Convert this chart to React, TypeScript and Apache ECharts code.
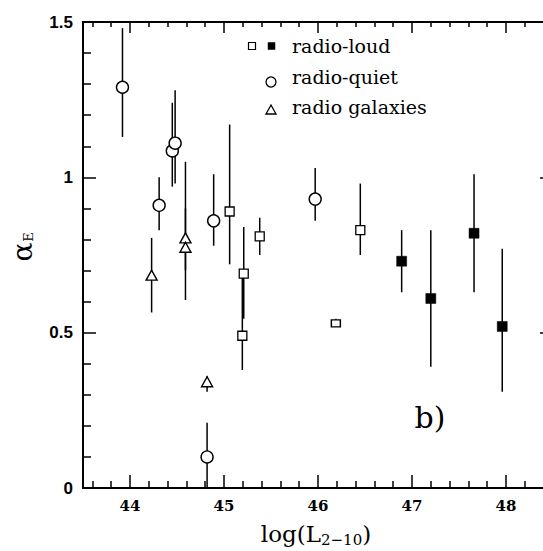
import React, { useEffect, useRef } from 'react';
import * as echarts from 'echarts';

// radio-quiet (open circles)
const quietX = [43.92, 44.45, 44.48, 44.31, 44.89, 45.97, 44.82];
const quietY = [1.29, 1.085, 1.11, 0.91, 0.86, 0.93, 0.10];
const quietLo = [1.13, 0.97, 0.98, 0.83, 0.78, 0.86, 0.0];
const quietHi = [1.48, 1.24, 1.28, 1.0, 1.01, 1.03, 0.21];

// radio galaxies (open triangles)
const galX = [44.23, 44.59, 44.59, 44.82];
const galY = [0.685, 0.805, 0.775, 0.342];
const galLo = [0.565, 0.7, 0.605, 0.31];
const galHi = [0.805, 1.05, 0.9, 0.36];

// radio-loud (open squares)
const loudOpenX = [45.06, 45.21, 45.195, 45.38, 46.45, 46.19];
const loudOpenY = [0.89, 0.69, 0.49, 0.81, 0.83, 0.53];
const loudOpenLo = [0.72, 0.545, 0.38, 0.75, 0.75, 0.52];
const loudOpenHi = [1.17, 0.84, 0.68, 0.87, 0.98, 0.545];

// radio-loud (filled squares)
const loudFillX = [46.89, 47.2, 47.66, 47.96];
const loudFillY = [0.73, 0.61, 0.82, 0.52];
const loudFillLo = [0.63, 0.39, 0.63, 0.31];
const loudFillHi = [0.83, 0.83, 1.01, 0.77];

const xMajorTicks = [44, 45, 46, 47, 48];
const xMinorTicks = [
  43.6, 43.8, 44.2, 44.4, 44.6, 44.8, 45.2, 45.4, 45.6, 45.8, 46.2, 46.4,
  46.6, 46.8, 47.2, 47.4, 47.6, 47.8, 48.2, 48.4,
];

const legendLabels = ['radio-loud', 'radio-quiet', 'radio galaxies'];

const SERIF = '"DejaVu Serif", serif';

function rows(xs: number[], ys: number[], lo: number[], hi: number[]) {
  return xs.map((x, i) => [x, ys[i], lo[i], hi[i]]);
}

function errorSeries(data: number[][]) {
  return {
    type: 'custom',
    xAxisIndex: 0,
    yAxisIndex: 0,
    z: 2,
    clip: false,
    encode: { x: 0, y: [2, 3] },
    data,
    renderItem: (params: any, api: any) => {
      const x = api.value(0);
      const p1 = api.coord([x, api.value(2)]);
      const p2 = api.coord([x, api.value(3)]);
      return {
        type: 'line',
        shape: { x1: p1[0], y1: p1[1], x2: p2[0], y2: p2[1] },
        style: { stroke: '#000', lineWidth: 1.5 },
      };
    },
  };
}

export default function App() {
  const ref = useRef<HTMLDivElement>(null);
  useEffect(() => {
    if (!ref.current) return;
    const chart = echarts.init(ref.current, null, { renderer: 'svg' });

    const tickStyle = { color: '#000', width: 1.5 };
    const baseX = { type: 'value', min: 43.5, max: 48.5, splitLine: { show: false } };
    const option: any = {
      animation: false,
      backgroundColor: '#fff',
      grid: { left: 83, top: 22, width: 470, height: 466, outerBoundsMode: 'none', containLabel: false },
      xAxis: [
        {
          ...baseX,
          position: 'bottom',
          axisLine: { show: true, lineStyle: { color: '#000', width: 2 } },
          axisTick: { show: true, inside: true, length: 13, lineStyle: tickStyle, customValues: xMajorTicks },
          axisLabel: {
            show: true,
            customValues: xMajorTicks,
            margin: 10,
            color: '#000',
            fontFamily: SERIF,
            fontWeight: 'bold',
            fontSize: 15,
          },
        },
        {
          ...baseX,
          position: 'bottom',
          axisLine: { show: false },
          axisTick: { show: true, inside: true, length: 7, lineStyle: tickStyle, customValues: xMinorTicks },
          axisLabel: { show: false },
        },
        {
          ...baseX,
          position: 'top',
          axisLine: { show: true, lineStyle: { color: '#000', width: 2 } },
          axisTick: { show: true, inside: true, length: 11, lineStyle: tickStyle, customValues: xMajorTicks },
          axisLabel: { show: false },
        },
        {
          ...baseX,
          position: 'top',
          axisLine: { show: false },
          axisTick: { show: true, inside: true, length: 5, lineStyle: tickStyle, customValues: xMinorTicks },
          axisLabel: { show: false },
        },
      ],
      yAxis: [
        {
          type: 'value',
          min: 0,
          max: 1.5,
          interval: 0.5,
          position: 'left',
          splitLine: { show: false },
          axisLine: { show: true, lineStyle: { color: '#000', width: 2 } },
          axisTick: { show: true, inside: true, length: 13, lineStyle: tickStyle },
          minorTick: { show: true, splitNumber: 5, length: 8, lineStyle: { color: '#000', width: 1.5 } },
          axisLabel: {
            margin: 10,
            color: '#000',
            fontFamily: '"Liberation Sans", Arial, sans-serif',
            fontWeight: 'bold',
            fontSize: 17,
          },
        },
        {
          type: 'value',
          min: 0,
          max: 1.5,
          interval: 0.5,
          position: 'right',
          splitLine: { show: false },
          axisLine: { show: true, lineStyle: { color: '#000', width: 2 } },
          axisTick: { show: true, inside: true, length: 13, lineStyle: tickStyle },
          minorTick: { show: true, splitNumber: 5, length: 8, lineStyle: { color: '#000', width: 1.5 } },
          axisLabel: { show: false },
        },
      ],
      series: [
        errorSeries(rows(quietX, quietY, quietLo, quietHi)),
        errorSeries(rows(galX, galY, galLo, galHi)),
        errorSeries(rows(loudOpenX, loudOpenY, loudOpenLo, loudOpenHi)),
        errorSeries(rows(loudFillX, loudFillY, loudFillLo, loudFillHi)),
        {
          type: 'scatter',
          z: 3,
          symbol: 'circle',
          symbolSize: 12,
          itemStyle: { color: '#fff', borderColor: '#000', borderWidth: 1.4, opacity: 1 },
          data: quietX.map((x, i) => [x, quietY[i]]),
        },
        {
          type: 'scatter',
          z: 3,
          symbol: 'triangle',
          symbolSize: [11, 10],
          itemStyle: { color: '#fff', borderColor: '#000', borderWidth: 1.4, opacity: 1 },
          data: galX.map((x, i) => [x, galY[i]]),
        },
        {
          type: 'scatter',
          z: 3,
          symbol: 'rect',
          symbolSize: 9,
          itemStyle: { color: '#fff', borderColor: '#000', borderWidth: 1.3, opacity: 1 },
          data: loudOpenX.map((x, i) =>
            i === 5 ? { value: [x, loudOpenY[i]], symbolSize: [9, 7] } : [x, loudOpenY[i]]
          ),
        },
        {
          type: 'scatter',
          z: 3,
          symbol: 'rect',
          symbolSize: 10,
          itemStyle: { color: '#000', borderColor: '#000', borderWidth: 0.5, opacity: 1 },
          data: loudFillX.map((x, i) => [x, loudFillY[i]]),
        },
      ],
      graphic: [
        // legend symbols
        { type: 'rect', shape: { x: 248.5, y: 42.5, width: 7, height: 7 }, style: { fill: '#fff', stroke: '#000', lineWidth: 1.2 } },
        { type: 'rect', shape: { x: 268, y: 42.5, width: 7, height: 7 }, style: { fill: '#000', stroke: '#000', lineWidth: 0.5 } },
        { type: 'circle', shape: { cx: 271, cy: 82, r: 5 }, style: { fill: '#fff', stroke: '#000', lineWidth: 1.3 } },
        { type: 'polygon', shape: { points: [[271, 105], [266, 114], [276, 114]] }, style: { fill: '#fff', stroke: '#000', lineWidth: 1.3 } },
        // legend labels
        { type: 'text', x: 292, y: 46, style: { text: legendLabels[0], fill: '#000', font: `19px ${SERIF}`, textVerticalAlign: 'middle', textAlign: 'left' } },
        { type: 'text', x: 292, y: 77, style: { text: legendLabels[1], fill: '#000', font: `19px ${SERIF}`, textVerticalAlign: 'middle', textAlign: 'left' } },
        { type: 'text', x: 292, y: 107, style: { text: legendLabels[2], fill: '#000', font: `19px ${SERIF}`, textVerticalAlign: 'middle', textAlign: 'left' } },
        // panel label
        { type: 'text', x: 430, y: 417, style: { text: 'b)', fill: '#000', font: `30px ${SERIF}`, textVerticalAlign: 'middle', textAlign: 'center' } },
        // y axis title (rotated group)
        {
          type: 'group',
          x: 22,
          y: 252,
          rotation: Math.PI / 2,
          children: [
            { type: 'text', x: 0, y: 0, style: { text: 'α', fill: '#000', font: `28px ${SERIF}`, textAlign: 'center', textVerticalAlign: 'middle' } },
            { type: 'text', x: 15, y: 6, style: { text: 'E', fill: '#000', font: `13px ${SERIF}`, textAlign: 'center', textVerticalAlign: 'middle' } },
          ],
        },
        // x axis title
        {
          type: 'text',
          x: 316,
          y: 534,
          style: {
            text: 'log(L{s|2−10})',
            fill: '#000',
            fontFamily: SERIF,
            fontSize: 23,
            lineHeight: 26,
            align: 'center',
            verticalAlign: 'middle',
            rich: {
              s: { fontFamily: SERIF, fontSize: 15, lineHeight: 15, verticalAlign: 'bottom', fill: '#000' },
            },
          },
        },
      ],
    };
    chart.setOption(option);
    return () => chart.dispose();
  }, []);
  return (
    <div
      ref={ref}
      style={{ position: 'absolute', left: 0, top: 0, width: 543, height: 551, background: '#fff' }}
    />
  );
}
